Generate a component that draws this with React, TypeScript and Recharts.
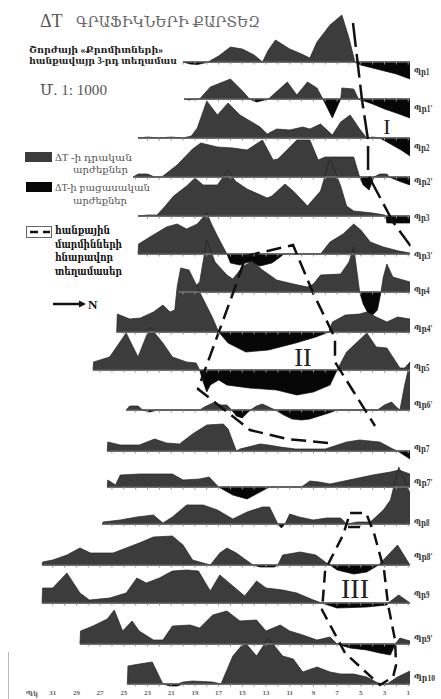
import React from 'react';
import { ComposedChart, Area, Line, XAxis, YAxis } from 'recharts';

type Pt = [number, number];

// profile names, top to bottom
const PROFILES = ['Պր1', "Պր1'", 'Պր2', "Պր2'", 'Պր3', "Պր3'", 'Պր4', "Պր4'", 'Պր5', "Պր6'", 'Պր7', "Պր7'", 'Պր8', "Պր8'", 'Պր9', "Պր9'", 'Պր10'];

// ΔT graphs as [picket, ΔT]; picket 31 is on the left, 1 on the right
const pr1: Pt[] = [[20, 0], [19.4, -2], [18.8, -2.5], [18.2, -1], [17.9, 0], [17, 6], [16, 15], [15, 13], [14, 7], [13.3, 0], [12.8, 12], [12.2, 22], [11, 13], [10, 8], [9.3, 4], [8.7, 20], [7.6, 37], [6.6, 47], [6, 24], [5.5, 0], [5, -3], [4, -6], [3, -9], [2, -12], [0.85, -17]];
const pr1b: Pt[] = [[19.9, 0], [19.5, -1], [19, 0], [18.6, 0], [17.7, 12], [16, 20], [14.9, 7], [14.4, 0], [13.8, -3], [12.8, 0], [11.2, 17], [10.4, 4], [9.5, 17], [8.7, 11], [8.2, 0], [7.4, -19], [6.7, 0], [6.6, 11], [5.6, 10], [5.2, 0], [4, -5], [3, -10], [2, -14], [0.85, -19]];
const pr2: Pt[] = [[23.8, 0], [23, 1], [22, 0], [21, 1], [20, 0], [19.3, 2], [18.8, 10], [18, 37], [17.1, 23], [16.2, 35], [15.2, 23], [13.5, 11], [12.9, 4], [12.1, 9], [11, 8], [9.9, 11], [9.3, 9], [8.4, 14], [7.4, 3], [6.7, 16], [5.9, 23], [5.1, 9], [4.5, 0], [4, 1], [3.4, 0], [2.5, -6], [1.6, -12], [0.85, -18]];
const pr2b: Pt[] = [[24.2, 0], [23.8, 3], [23, 3], [22.4, 0], [21.8, 0], [20.5, 12], [19.2, 28], [18.5, 34], [17.1, 30], [15.8, 29], [14.6, 27], [13.3, 37], [12.4, 17], [12, 18], [10.4, 37], [9.3, 37], [8.6, 17], [8, 20], [6.7, 20], [5.6, 20], [5.1, 0], [4.8, -8], [4.3, -13], [3.9, 0], [3.4, 3], [2.8, 3], [2.6, 0], [1.8, -4], [0.85, -8]];
const pr3: Pt[] = [[23.8, 0], [23, 1], [22.2, 1], [21.5, 10], [20.8, 20], [19.7, 30], [19, 38], [18.3, 31], [17.1, 31], [16.2, 46], [15.6, 35], [14.6, 27], [12.9, 18], [12.5, 20], [11.4, 32], [10.7, 25], [9.5, 10], [8.4, 25], [7.6, 57], [6.7, 30], [6.2, 10], [5.6, 5], [4, 3], [3, 1], [2.9, 0], [2.8, -7], [0.85, -7]];
const pr3b: Pt[] = [[23.8, 0], [23.75, 10], [22.8, 17], [21.4, 27], [20.5, 30], [19.7, 25], [18.8, 30], [18, 41], [17.6, 30], [17.1, 18], [16.3, 0], [16, -9], [15.2, -11], [14.5, -8], [13.5, -12], [12.5, -9], [11.8, -3], [11.5, 0], [8.4, 0], [7.6, 12], [6.5, 20], [5.6, 30], [5, 24], [4.2, 12], [3.1, 7], [1.8, 3], [0.85, 1]];
const pr4: Pt[] = [[20.4, 0], [19.5, 0], [18.6, 10], [18, 52], [17.3, 30], [16.3, 17], [15.8, 13], [15, 25], [14.2, 31], [13.3, 22], [12.1, 12], [10.7, 8], [9.5, 5], [9, 8], [8.4, 17], [6.7, 18], [6, 30], [5.6, 45], [5.1, 0], [4.8, -12], [4.4, -21], [4, -23], [3.6, -18], [3.3, 0], [3.1, 15], [2.8, 28], [2.3, 15], [0.85, 10]];
const pr4b: Pt[] = [[25.6, 0], [25.55, 18], [24.5, 13], [23.6, 14], [22.5, 20], [21.7, 27], [21.1, 20], [20.7, 22], [20.5, 45], [20.2, 64], [19.5, 62], [19, 50], [18.6, 40], [17.5, 14], [17, 0], [16.2, -11], [14.7, -20], [12.8, -18], [10.5, -11], [8.8, -5], [7.7, 0], [7.4, 10], [6.3, 17], [5.1, 18], [4.5, 20], [3.7, 15], [2.8, 10], [1.9, 15], [0.85, 13]];
const pr5: Pt[] = [[27.6, 0], [27.55, 8], [26.2, 13], [24.8, 37], [23.8, 13], [22.8, 43], [21.7, 27], [20.9, 13], [19.7, 8], [18.9, 7], [18.6, 0], [18.3, -12], [18, -22], [17.7, -15], [17, -10], [16.3, -15], [14.4, -18], [12.1, -20], [10.4, -25], [9, -22], [7.6, -15], [7, 0], [6.2, 18], [5.3, 28], [4.5, 37], [3.7, 23], [2.8, 22], [1.7, 2], [1.3, 2], [0.85, 8]];
const pr6b: Pt[] = [[24.8, 0], [24.5, 4], [23.8, 4], [23.4, 0], [22.8, -2], [22.2, 0], [18.6, 0], [18.2, 3], [17.5, 7], [16.8, 5], [16.3, 5], [15.9, 0], [15.5, -6], [15, -8], [14.6, -3], [14.3, 0], [13.8, 4], [13.3, 6], [12.6, 2], [12.2, 0], [11.5, -5], [10.8, -9], [10, -10], [9.3, -9], [8.5, -6], [7.7, -3], [7, 0], [3.6, 0], [3, 5], [2.4, 8], [2, 3], [1.7, 0], [1.3, 25], [0.85, 48]];
const pr7: Pt[] = [[26.4, 0], [26.35, 9], [25.3, 6], [23.7, 6], [22.4, 12], [21.4, 8], [20.3, 7], [19.2, 17], [18, 26], [16.6, 27], [16.2, 22], [15.5, 0], [15.2, 2], [13.5, 7], [12.8, 6], [11.8, 4], [10.5, 2], [8, 2], [6.2, 9], [5.1, 11], [3.4, 9], [2.3, 2], [1.9, 0], [0.85, -8]];
const pr7b: Pt[] = [[26.4, 0], [26.35, 7], [25.7, 2], [25.3, 12], [23.7, 13], [22, 13], [20.9, 13], [20, 7], [18.6, 8], [17.8, 10], [17, 0], [15.8, -8], [14.6, -12], [13.5, -5], [12.7, 0], [10, 0], [9.3, 6], [8.5, 5], [7.6, 3], [5.6, 8], [4, 12], [2.5, 15], [1.8, 17], [0.85, 13]];
const pr8: Pt[] = [[26.8, 0], [26.75, 2], [25.3, 4], [23.9, 7], [22.5, 9], [21.7, 1], [20.9, 7], [19.7, 19], [18.3, 19], [17.1, 14], [15.8, 5], [14.6, 12], [13.3, 17], [12.7, 17], [12, 0], [11.7, -4], [11.4, 0], [11, 10], [10.2, 7], [9, 4], [7.9, 6], [6.7, 6], [6.2, 0], [5.3, 2], [4.2, 2], [3.1, 14], [2.5, 24], [1.8, 57], [0.85, 31]];
const pr8b: Pt[] = [[31.9, 0], [31.85, 3], [31, 5], [29.8, 10], [28.7, 17], [27.8, 12], [25.9, 12], [24.8, 17], [23.7, 22], [22.5, 28], [20.9, 29], [20, 20], [19.2, 5], [17.7, 0], [16.9, 12], [16.3, 17], [15.5, 12], [14.8, 6], [14.1, 0], [13.5, -2], [12.3, -2], [12, 0], [11.6, 10], [10.1, 13], [8.8, 10], [7.9, 2], [7.6, 0], [7, -5], [5.6, -9], [4.5, -7], [3.5, 0], [1.9, 20], [0.85, 0]];
const pr9: Pt[] = [[31.9, 0], [31.85, 15], [31, 15], [29.8, 30], [28.7, 10], [27.9, 3], [26.2, 5], [24.8, 10], [23.9, 25], [23.1, 20], [22, 25], [20.9, 32], [19.7, 33], [18.7, 32], [17.7, 12], [16.9, 28], [15.8, 17], [14.8, 7], [13.8, 22], [13, 15], [11.6, 13], [10.4, 10], [9, 3], [8.3, 0], [7, -5], [4.5, -4], [2.8, -2], [2.7, 0], [1.8, 8], [0.85, 0]];
const pr9b: Pt[] = [[28.7, 0], [28.65, 13], [27.6, 18], [26.4, 25], [25.8, 34], [25.1, 13], [24.3, 23], [23.7, 13], [22.5, 4], [21.7, 4], [20.9, 18], [19.4, 19], [18.6, 16], [17.5, 29], [16.3, 33], [15.2, 23], [13.8, 24], [13, 13], [11.8, 19], [11, 13], [9.9, 9], [8.7, 4], [7.6, 7], [7, 0], [5.9, -4], [4.5, -6], [3.4, -9], [2.5, -11], [2.1, 0], [1.7, 6], [0.85, 3]];
const pr10: Pt[] = [[24.7, 0], [24.65, 18], [23.7, 20], [22.6, 22], [21.7, 0], [21.1, -2], [20.5, -2], [20, 2], [19.2, 3], [17.5, 2], [16.8, 0], [15.8, 28], [14.8, 42], [13.8, 28], [12.8, 46], [11.6, 28], [10.7, 25], [9.9, 12], [8.7, 17], [7.6, 12], [6.7, 10], [5.6, 10], [4.5, 7], [3.4, 0], [3, -1], [2.8, 0], [1.9, 7], [0.85, 13]];

const PROFILE_DATA = [pr1, pr1b, pr2, pr2b, pr3, pr3b, pr4, pr4b, pr5, pr6b, pr7, pr7b, pr8, pr8b, pr9, pr9b, pr10];

// where each profile sits on the sheet (plot units = px from the top)
const BASELINES = [62, 99, 138, 177, 216, 254, 292, 332, 370, 410, 451, 487, 524, 565, 603, 644, 684];
const LABEL_Y = [71, 108, 147, 181, 217, 255, 290, 328, 367, 404, 448, 482, 522, 556, 594, 638, 678];

const PICKETS = [31, 29, 27, 25, 23, 21, 19, 17, 15, 13, 11, 9, 7, 5, 3, 1];

// dashed outlines of possible ore bodies, [picket, y]
const zoneI: Pt[] = [[5.66, 23], [4.9, 100], [4.39, 140], [4.39, 175], [2.28, 222], [0.8, 246]];
const zoneII: Pt[] = [[7.77, 443], [11.23, 439], [14.35, 430], [18.74, 389], [15.78, 293], [14.69, 256], [10.72, 245], [9.03, 293], [7.18, 338], [7.18, 362], [3.8, 426]];
const zoneIII: Pt[] = [[5.91, 513], [4.56, 513], [3.89, 533], [3.04, 570], [2.7, 605], [2.11, 640], [2.03, 665], [2.28, 677], [3.38, 685], [6.33, 653], [8.27, 610], [8.01, 570], [6.5, 535], [5.91, 513]];
const zoneIIIinner: Pt[] = [[6.08, 527], [4.65, 527]];

const SERIF = "'Liberation Serif', 'DejaVu Serif', serif";
const POS_FILL = '#3c3c3c';
const NEG_FILL = '#070707';

const profileRows = (pts: Pt[], base: number) =>
  pts.map(([x, v]) => ({ x, pos: [base, base - Math.max(v, 0)], neg: [base, base - Math.min(v, 0)] }));

const baselineRows = (pts: Pt[], base: number) => {
  const start = pts[0][0];
  const end = pts[pts.length - 1][0];
  const rows = [{ x: start, y: base, tick: false }];
  for (let p = Math.floor(start); p >= Math.ceil(end); p--) rows.push({ x: p, y: base, tick: true });
  rows.push({ x: end, y: base, tick: false });
  return rows;
};

const zoneRows = (pts: Pt[]) => pts.map(([x, y]) => ({ x, y }));

const renderTick = (props: any) => {
  const { cx, cy, payload, index } = props;
  if (!payload || !payload.tick) return <g key={`t${index}`} />;
  return <line key={`t${index}`} x1={cx} x2={cx} y1={cy} y2={cy + 2.5} stroke="#8c8c8c" strokeWidth={1} />;
};

const ProfileLabel = (props: any) => {
  const { y, payload } = props;
  const i = LABEL_Y.indexOf(payload.value);
  const name = PROFILES[i] || '';
  const digits = name.replace(/[^0-9]/g, '').length;
  const len = 10 + 5.5 * digits + (name.includes("'") ? 3 : 0);
  return (
    <text x={414} y={y} dy="0.35em" fontSize={digits > 1 ? 8.5 : 10} fontWeight={700} fill="#333" fontFamily={SERIF} textAnchor="start" textLength={len} lengthAdjust="spacingAndGlyphs">
      {name}
    </text>
  );
};

const Annotations = () => (
  <svg width={441} height={699} style={{ position: 'absolute', left: 0, top: 0 }}>
    <text x={40} y={27} fontSize={18} fill="#555" fontFamily={SERIF}>ΔT</text>
    <text x={76} y={27} fontSize={15} fill="#666" fontFamily={SERIF} textLength={184} lengthAdjust="spacingAndGlyphs">ԳՐԱՖԻԿՆԵՐԻ ՔԱՐՏԵԶ</text>
    <text x={29} y={53} fontSize={10} fontWeight={700} fill="#222" fontFamily={SERIF} textLength={134} lengthAdjust="spacingAndGlyphs">Շորժայի «Քրոմիտների»</text>
    <text x={29} y={64} fontSize={10} fontWeight={700} fill="#222" fontFamily={SERIF} textLength={148} lengthAdjust="spacingAndGlyphs">հանքավայր 3-րդ տեղամաս</text>
    <text x={40} y={95} fontSize={14} fill="#555" fontFamily={SERIF} textLength={67} lengthAdjust="spacingAndGlyphs">Մ. 1: 1000</text>

    <rect x={25} y={152} width={27} height={10} fill={POS_FILL} />
    <text x={55} y={161} fontSize={10} fill="#555" fontFamily={SERIF} textLength={77} lengthAdjust="spacingAndGlyphs">ΔT -ի դրական</text>
    <text x={73} y={173} fontSize={10} fill="#555" fontFamily={SERIF} textLength={55} lengthAdjust="spacingAndGlyphs">արժեքներ</text>
    <rect x={26} y={182} width={26} height={10} fill={NEG_FILL} />
    <text x={55} y={191} fontSize={10} fill="#555" fontFamily={SERIF} textLength={95} lengthAdjust="spacingAndGlyphs">ΔT-ի բացասական</text>
    <text x={73} y={204} fontSize={10} fill="#555" fontFamily={SERIF} textLength={54} lengthAdjust="spacingAndGlyphs">արժեքներ</text>
    <rect x={26.5} y={226.5} width={25} height={11} fill="none" stroke="#666" strokeWidth={1} />
    <line x1={30} x2={38} y1={232} y2={232} stroke="#111" strokeWidth={2.5} />
    <line x1={43} x2={50} y1={232} y2={232} stroke="#111" strokeWidth={2.5} />
    <text x={55} y={234} fontSize={10.5} fontWeight={700} fill="#111" fontFamily={SERIF} textLength={55} lengthAdjust="spacingAndGlyphs">հանքային</text>
    <text x={55} y={248} fontSize={10.5} fontWeight={700} fill="#111" fontFamily={SERIF} textLength={67} lengthAdjust="spacingAndGlyphs">մարմինների</text>
    <text x={55} y={261} fontSize={10.5} fontWeight={700} fill="#111" fontFamily={SERIF} textLength={58} lengthAdjust="spacingAndGlyphs">հնարավոր</text>
    <text x={55} y={275} fontSize={10.5} fontWeight={700} fill="#111" fontFamily={SERIF} textLength={67} lengthAdjust="spacingAndGlyphs">տեղամասեր</text>

    <line x1={53} x2={80} y1={304} y2={304} stroke="#111" strokeWidth={2.5} />
    <polygon points="79,300.5 86,304 79,307.5" fill="#111" />
    <text x={88} y={309} fontSize={13} fontWeight={700} fill="#111" fontFamily={SERIF}>N</text>

    <text x={387} y={134} fontSize={22} fill="#222" fontFamily={SERIF} textAnchor="middle">I</text>
    <text x={303} y={366} fontSize={26} fill="#222" fontFamily={SERIF} textAnchor="middle">II</text>
    <text x={355} y={598} fontSize={28} fill="#222" fontFamily={SERIF} textAnchor="middle">III</text>

    <text x={32} y={696} fontSize={7} fontWeight={700} fill="#666" fontFamily={SERIF} textAnchor="middle">Պկ</text>
    <line x1={8.5} x2={8.5} y1={652} y2={699} stroke="#bbb" strokeWidth={1} />
  </svg>
);

export default function App() {
  const series = PROFILE_DATA.flatMap((pts, i) => {
    const rows = profileRows(pts, BASELINES[i]);
    return [
      <Area key={`pos${i}`} data={rows} dataKey="pos" type="linear" fill={POS_FILL} fillOpacity={1} stroke="#242424" strokeWidth={0.7} dot={false} activeDot={false} isAnimationActive={false} />,
      <Area key={`neg${i}`} data={rows} dataKey="neg" type="linear" fill={NEG_FILL} fillOpacity={1} stroke={NEG_FILL} strokeWidth={0.7} dot={false} activeDot={false} isAnimationActive={false} />,
      <Line key={`base${i}`} data={baselineRows(pts, BASELINES[i])} dataKey="y" type="linear" stroke="#8c8c8c" strokeWidth={1} dot={renderTick} activeDot={false} isAnimationActive={false} />,
    ];
  });

  const zones = [
    { pts: zoneI, dash: '24 7' },
    { pts: zoneII, dash: '15 7' },
    { pts: zoneIII, dash: '12 7' },
    { pts: zoneIIIinner, dash: '12 7' },
  ];

  return (
    <div style={{ position: 'absolute', left: 0, top: 0, width: 441, height: 699, background: '#fff', overflow: 'hidden' }}>
      <Annotations />
      <div style={{ position: 'absolute', left: 0, top: 0 }}>
        <ComposedChart width={441} height={699} margin={{ top: 0, right: 0, bottom: 0, left: 29 }}>
          <XAxis
            type="number"
            dataKey="x"
            domain={[0.8, 33]}
            reversed
            allowDataOverflow
            ticks={PICKETS}
            interval={0}
            axisLine={false}
            tickLine={false}
            tickSize={0}
            tickMargin={1}
            height={10}
            tick={{ fontSize: 7, fontWeight: 700, fill: '#666', fontFamily: SERIF }}
          />
          <YAxis
            type="number"
            domain={[0, 689]}
            reversed
            allowDataOverflow
            orientation="right"
            width={30.4}
            ticks={LABEL_Y}
            interval={0}
            axisLine={false}
            tickLine={false}
            tick={<ProfileLabel />}
          />
          {series}
          {zones.map((z, i) => (
            <Line key={`zone${i}`} data={zoneRows(z.pts)} dataKey="y" type="linear" stroke="#111" strokeWidth={2.5} strokeDasharray={z.dash} dot={false} activeDot={false} isAnimationActive={false} />
          ))}
        </ComposedChart>
      </div>
    </div>
  );
}
